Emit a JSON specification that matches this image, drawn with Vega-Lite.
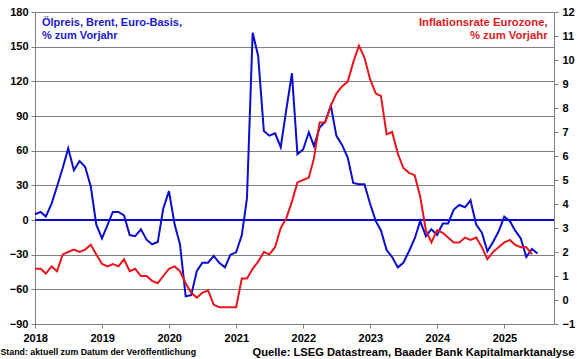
{
  "$schema": "https://vega.github.io/schema/vega-lite/v6.json",
  "width": 580,
  "height": 359,
  "autosize": {"type": "fit", "contains": "padding"},
  "padding": {"left": 0, "right": 5, "top": 6, "bottom": 1},
  "background": "white",
  "config": {
    "font": "Liberation Sans",
    "view": {"stroke": null},
    "axis": {
      "labelFont": "Liberation Sans",
      "labelFontWeight": "bold",
      "labelColor": "#000000",
      "labelFontSize": 11,
      "labelOverlap": false,
      "domainColor": "#808080",
      "tickColor": "#808080",
      "gridColor": "#808080",
      "tickSize": 4
    }
  },
  "title": {
    "text": "Quelle: LSEG Datastream, Baader Bank Kapitalmarktanalyse",
    "orient": "bottom",
    "anchor": "end",
    "frame": "bounds",
    "font": "Liberation Sans",
    "fontSize": 11.2,
    "fontWeight": "bold",
    "color": "#000000",
    "offset": -9
  },
  "data": {
    "values": [
      {"date": "2017-12-31", "oil": 5, "cpi": 1.3},
      {"date": "2018-01-31", "oil": 7, "cpi": 1.3},
      {"date": "2018-02-28", "oil": 3, "cpi": 1.1},
      {"date": "2018-03-31", "oil": 14, "cpi": 1.4},
      {"date": "2018-04-30", "oil": 29, "cpi": 1.2},
      {"date": "2018-05-31", "oil": 45, "cpi": 1.9},
      {"date": "2018-06-30", "oil": 62, "cpi": 2.0},
      {"date": "2018-07-31", "oil": 43, "cpi": 2.1},
      {"date": "2018-08-31", "oil": 51, "cpi": 2.0},
      {"date": "2018-09-30", "oil": 46, "cpi": 2.1},
      {"date": "2018-10-31", "oil": 29, "cpi": 2.3},
      {"date": "2018-11-30", "oil": -4, "cpi": 1.9},
      {"date": "2018-12-31", "oil": -16, "cpi": 1.5},
      {"date": "2019-01-31", "oil": -4, "cpi": 1.4},
      {"date": "2019-02-28", "oil": 7, "cpi": 1.5},
      {"date": "2019-03-31", "oil": 7, "cpi": 1.4},
      {"date": "2019-04-30", "oil": 4, "cpi": 1.7},
      {"date": "2019-05-31", "oil": -13, "cpi": 1.2},
      {"date": "2019-06-30", "oil": -14, "cpi": 1.3},
      {"date": "2019-07-31", "oil": -8, "cpi": 1.0},
      {"date": "2019-08-31", "oil": -17, "cpi": 1.0},
      {"date": "2019-09-30", "oil": -21, "cpi": 0.8},
      {"date": "2019-10-31", "oil": -19, "cpi": 0.7},
      {"date": "2019-11-30", "oil": 10, "cpi": 1.0},
      {"date": "2019-12-31", "oil": 25, "cpi": 1.3},
      {"date": "2020-01-31", "oil": -4, "cpi": 1.4},
      {"date": "2020-02-29", "oil": -21, "cpi": 1.2},
      {"date": "2020-03-31", "oil": -66, "cpi": 0.7},
      {"date": "2020-04-30", "oil": -65, "cpi": 0.3},
      {"date": "2020-05-31", "oil": -44, "cpi": 0.1},
      {"date": "2020-06-30", "oil": -37, "cpi": 0.3},
      {"date": "2020-07-31", "oil": -37, "cpi": 0.4},
      {"date": "2020-08-31", "oil": -31, "cpi": -0.2},
      {"date": "2020-09-30", "oil": -37, "cpi": -0.3},
      {"date": "2020-10-31", "oil": -41, "cpi": -0.3},
      {"date": "2020-11-30", "oil": -30, "cpi": -0.3},
      {"date": "2020-12-31", "oil": -28, "cpi": -0.3},
      {"date": "2021-01-31", "oil": -13, "cpi": 0.9},
      {"date": "2021-02-28", "oil": 19, "cpi": 0.9},
      {"date": "2021-03-31", "oil": 162, "cpi": 1.3},
      {"date": "2021-04-30", "oil": 142, "cpi": 1.6},
      {"date": "2021-05-31", "oil": 77, "cpi": 2.0},
      {"date": "2021-06-30", "oil": 73, "cpi": 1.9},
      {"date": "2021-07-31", "oil": 75, "cpi": 2.2},
      {"date": "2021-08-31", "oil": 63, "cpi": 3.0},
      {"date": "2021-09-30", "oil": 95, "cpi": 3.4},
      {"date": "2021-10-31", "oil": 127, "cpi": 4.1},
      {"date": "2021-11-30", "oil": 57, "cpi": 4.9},
      {"date": "2021-12-31", "oil": 61, "cpi": 5.0},
      {"date": "2022-01-31", "oil": 76, "cpi": 5.1},
      {"date": "2022-02-28", "oil": 64, "cpi": 5.9},
      {"date": "2022-03-31", "oil": 80, "cpi": 7.4},
      {"date": "2022-04-30", "oil": 85, "cpi": 7.4},
      {"date": "2022-05-31", "oil": 99, "cpi": 8.1},
      {"date": "2022-06-30", "oil": 73, "cpi": 8.6},
      {"date": "2022-07-31", "oil": 65, "cpi": 8.9},
      {"date": "2022-08-31", "oil": 54, "cpi": 9.1},
      {"date": "2022-09-30", "oil": 32, "cpi": 9.9},
      {"date": "2022-10-31", "oil": 31, "cpi": 10.6},
      {"date": "2022-11-30", "oil": 31, "cpi": 10.1},
      {"date": "2022-12-31", "oil": 14, "cpi": 9.2},
      {"date": "2023-01-31", "oil": -1, "cpi": 8.6},
      {"date": "2023-02-28", "oil": -9, "cpi": 8.5},
      {"date": "2023-03-31", "oil": -26, "cpi": 6.9},
      {"date": "2023-04-30", "oil": -32, "cpi": 7.0},
      {"date": "2023-05-31", "oil": -41, "cpi": 6.1},
      {"date": "2023-06-30", "oil": -37, "cpi": 5.5},
      {"date": "2023-07-31", "oil": -27, "cpi": 5.3},
      {"date": "2023-08-31", "oil": -16, "cpi": 5.2},
      {"date": "2023-09-30", "oil": -1, "cpi": 4.3},
      {"date": "2023-10-31", "oil": -14, "cpi": 2.9},
      {"date": "2023-11-30", "oil": -8, "cpi": 2.4},
      {"date": "2023-12-31", "oil": -13, "cpi": 2.9},
      {"date": "2024-01-31", "oil": -3, "cpi": 2.8},
      {"date": "2024-02-29", "oil": -3, "cpi": 2.6},
      {"date": "2024-03-31", "oil": 9, "cpi": 2.4},
      {"date": "2024-04-30", "oil": 13, "cpi": 2.4},
      {"date": "2024-05-31", "oil": 11, "cpi": 2.6},
      {"date": "2024-06-30", "oil": 17, "cpi": 2.5},
      {"date": "2024-07-31", "oil": -4, "cpi": 2.6},
      {"date": "2024-08-31", "oil": -11, "cpi": 2.2},
      {"date": "2024-09-30", "oil": -27, "cpi": 1.7},
      {"date": "2024-10-31", "oil": -19, "cpi": 2.0},
      {"date": "2024-11-30", "oil": -10, "cpi": 2.2},
      {"date": "2024-12-31", "oil": 3, "cpi": 2.4},
      {"date": "2025-01-31", "oil": -1, "cpi": 2.5},
      {"date": "2025-02-28", "oil": -9, "cpi": 2.3},
      {"date": "2025-03-31", "oil": -16, "cpi": 2.2},
      {"date": "2025-04-30", "oil": -32, "cpi": 2.2},
      {"date": "2025-05-31", "oil": -25, "cpi": 1.9},
      {"date": "2025-06-30", "oil": -29, "cpi": null}
    ]
  },
  "layer": [
    {
      "layer": [
        {
          "mark": {"type": "line", "color": "#0c0ccc", "strokeWidth": 2},
          "encoding": {
            "x": {
              "field": "date", "type": "temporal",
              "scale": {"domain": ["2017-12-31", "2025-09-28"]},
              "axis": {
                "title": "Stand: aktuell zum Datum der Veröffentlichung",
                "titleFont": "Liberation Sans", "titleFontSize": 8.8, "titleFontWeight": "bold", "titleColor": "#000000",
                "titleAnchor": "start", "titleAlign": "left", "titleX": -35, "titlePadding": 4,
                "format": "%Y", "tickCount": {"interval": "year", "step": 1},
                "labelFontSize": 11, "labelPadding": 4, "labelFlush": false, "labelOverlap": false, "grid": false
              }
            },
            "y": {
              "field": "oil", "type": "quantitative",
              "scale": {"domain": [-90, 180], "nice": false, "zero": false},
              "axis": {"title": null, "values": [-90, -60, -30, 0, 30, 60, 90, 120, 150, 180], "grid": true, "labelPadding": 3, "labelOverlap": false, "labelFlush": false}
            }
          }
        },
        {
          "data": {"values": [{}]},
          "mark": {"type": "rule", "color": "#0c0ccc", "strokeWidth": 2},
          "encoding": {
            "y": {"datum": 0, "type": "quantitative",
              "axis": {"title": null, "values": [-90, -60, -30, 0, 30, 60, 90, 120, 150, 180], "grid": true, "labelPadding": 3, "labelOverlap": false, "labelFlush": false}}
          }
        },
        {
          "data": {"values": [{}]},
          "mark": {"type": "text", "text": ["Ölpreis, Brent, Euro-Basis,", "% zum Vorjahr"], "align": "left", "baseline": "top", "lineHeight": 12.5, "fontSize": 11, "fontWeight": "bold", "color": "#1a1acc"},
          "encoding": {
            "x": {"datum": {"year": 2018, "month": 2, "date": 7}, "type": "temporal"},
            "y": {"datum": 175.4, "type": "quantitative",
              "axis": {"title": null, "values": [-90, -60, -30, 0, 30, 60, 90, 120, 150, 180], "grid": true, "labelPadding": 3, "labelOverlap": false, "labelFlush": false}}
          }
        }
      ]
    },
    {
      "layer": [
        {
          "mark": {"type": "line", "color": "#e8161c", "strokeWidth": 2},
          "encoding": {
            "x": {"field": "date", "type": "temporal"},
            "y": {
              "field": "cpi", "type": "quantitative",
              "scale": {"domain": [-1, 12], "nice": false, "zero": false},
              "axis": {"title": null, "orient": "right", "values": [-1, 0, 1, 2, 3, 4, 5, 6, 7, 8, 9, 10, 11, 12], "grid": false, "labelPadding": 4, "labelOverlap": false, "labelFlush": false}
            }
          }
        },
        {
          "data": {"values": [{}]},
          "mark": {"type": "text", "text": ["Inflationsrate Eurozone,", "% zum Vorjahr"], "align": "right", "baseline": "top", "lineHeight": 12.5, "fontSize": 11.3, "fontWeight": "bold", "color": "#e01a1e"},
          "encoding": {
            "x": {"datum": {"year": 2025, "month": 8, "date": 24}, "type": "temporal"},
            "y": {"datum": 11.78, "type": "quantitative",
              "axis": {"title": null, "orient": "right", "values": [-1, 0, 1, 2, 3, 4, 5, 6, 7, 8, 9, 10, 11, 12], "grid": false, "labelPadding": 4, "labelOverlap": false, "labelFlush": false}}
          }
        }
      ]
    }
  ],
  "resolve": {"scale": {"y": "independent"}, "axis": {"y": "independent"}}
}
